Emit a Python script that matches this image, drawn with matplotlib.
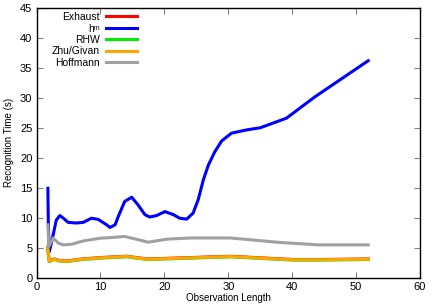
import matplotlib
matplotlib.use("Agg")
from matplotlib import pyplot as plt

plt.rcParams['font.family'] = ['Liberation Sans', 'DejaVu Sans']

# h^m (blue)
hm_x = [1.78, 1.85, 2.0, 2.6, 3.1, 3.66, 4.2, 4.96, 6.27, 7.3, 8.6, 9.66, 10.97, 11.5,
        12.3, 12.8, 13.8, 14.9, 15.9, 16.96, 17.7, 18.8, 20.1, 21.4, 22.4, 23.5,
        24.5, 25.3, 26.1, 26.9, 27.9, 28.97, 30.5, 32.9, 35.0, 39.1, 43.6, 51.9]
hm_y = [14.9, 9.0, 4.3, 7.1, 9.6, 10.35, 9.9, 9.2, 9.1, 9.2, 9.9, 9.7, 8.8, 8.35,
        8.8, 10.2, 12.7, 13.4, 12.1, 10.5, 10.1, 10.35, 11.0, 10.5, 9.9, 9.75,
        10.75, 13.0, 16.3, 18.8, 21.0, 22.8, 24.1, 24.65, 25.0, 26.6, 30.2, 36.2]

# Hoffmann (gray)
hof_x = [1.78, 1.94, 2.6, 3.4, 4.2, 5.5, 7.3, 9.9, 12.0, 13.8, 17.5, 20.4, 24.0,
         30.3, 38.1, 44.1, 51.9]
hof_y = [8.8, 5.2, 6.6, 5.75, 5.45, 5.55, 6.1, 6.55, 6.7, 6.85, 5.9, 6.4, 6.6,
         6.6, 5.85, 5.45, 5.45]

# Zhu/Givan (orange); Exhaust and RHW lie almost on top of it
low_x = [1.75, 2.0, 2.77, 3.55, 4.6, 7.2, 10.3, 14.1, 17.3, 21.9, 30.3, 40.2, 44.1, 51.9]
zhu_y = [4.9, 2.7, 3.05, 2.8, 2.7, 3.05, 3.3, 3.5, 3.05, 3.2, 3.5, 2.95, 2.95, 3.05]
exh_y = [4.95, 2.75, 3.1, 2.85, 2.75, 3.1, 3.35, 3.55, 3.1, 3.25, 3.55, 3.0, 3.0, 3.1]
rhw_y = [4.85, 2.65, 3.0, 2.75, 2.65, 3.0, 3.25, 3.45, 3.0, 3.15, 3.45, 2.9, 2.9, 3.0]

fig = plt.figure(figsize=(4.36, 3.05), dpi=100)
ax = fig.add_axes([36.5 / 436, 1 - 277.5 / 305, (420 - 36.5) / 436, (277.5 - 8) / 305])

lw = 2.2
ax.plot(low_x, exh_y, color='#ff0000', lw=lw, label='Exhaust', solid_joinstyle='round')
ax.plot(hm_x, hm_y, color='#0000ff', lw=lw, label='h\u1d50', solid_joinstyle='round')
ax.plot(low_x, rhw_y, color='#00ee00', lw=lw, label='RHW', solid_joinstyle='round')
ax.plot(low_x, zhu_y, color='#ffa500', lw=lw, label='Zhu/Givan', solid_joinstyle='round')
ax.plot(hof_x, hof_y, color='#a0a0a0', lw=lw, label='Hoffmann', solid_joinstyle='round')

ax.set_xlim(0, 60)
ax.set_ylim(0, 45)
ax.set_xticks(range(0, 61, 10))
ax.set_yticks(range(0, 46, 5))
ax.tick_params(direction='in', length=4, width=0.8, color='#808080',
               top=True, right=True, labelsize=8, pad=3)
for s in ax.spines.values():
    s.set_linewidth(1.0)

ax.set_xlabel('Observation Length', fontsize=7, labelpad=1)
ax.set_ylabel('Recognition Time (s)', fontsize=7, labelpad=4)

ax.legend(loc='upper right', bbox_to_anchor=(0.261, 0.985), frameon=False,
          markerfirst=False, fontsize=7.5, handlelength=2.9, labelspacing=0.14,
          handletextpad=0.64, borderpad=0, borderaxespad=0)

plt.savefig('out.png', dpi=100)
